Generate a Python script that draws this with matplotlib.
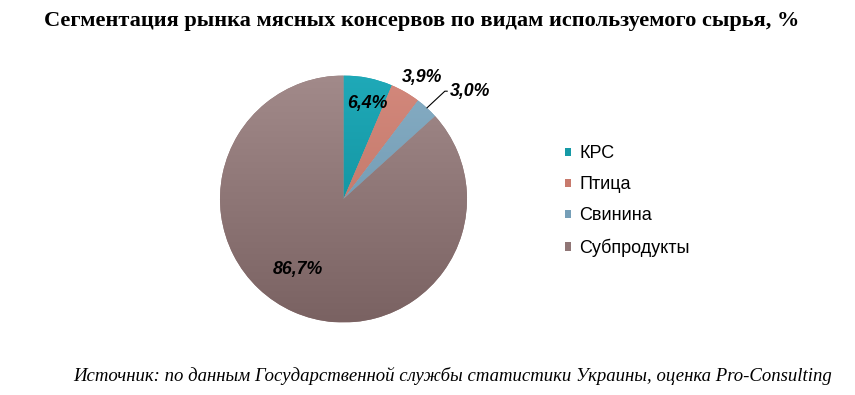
import numpy as np
import matplotlib
matplotlib.use("Agg")
import matplotlib.pyplot as plt
from matplotlib.colors import LinearSegmentedColormap
from matplotlib.patches import Rectangle

# ---------------------------------------------------------------------------
#  Data
# ---------------------------------------------------------------------------
TITLE = "Сегментация рынка мясных консервов по видам используемого сырья, %"
SOURCE = "Источник: по данным Государственной службы статистики Украины, оценка Pro-Consulting"

categories = ["КРС", "Птица", "Свинина", "Субпродукты"]
shares = [6.4, 3.9, 3.0, 86.7]
share_labels = ["6,4%", "3,9%", "3,0%", "86,7%"]

# top / bottom colours of the vertical gradient of each slice
TOP_COLORS = ["#1FA9B8", "#D3887C", "#86ADC4", "#A28A8A"]
BOT_COLORS = ["#0B8691", "#B9705F", "#6690A8", "#7A6262"]
MID_COLORS = ["#169AA6", "#C87A6D", "#769FB8", "#907676"]

# label placement (radius, angle offset in degrees) relative to slice middle
LABEL_R = [0.80, 1.17, 1.33, 0.68]
LABEL_DA = [-2.5, -3.0, -6.5, -9.0]

fig = plt.figure(figsize=(8.55, 3.95), dpi=100)
fig.patch.set_facecolor("white")

fig.text(0.4935, 0.948, TITLE, ha="center", va="center",
         fontsize=16.1, fontweight="bold", family="Liberation Serif")
fig.text(0.973, 0.047, SOURCE, ha="right", va="center",
         fontsize=13.5, style="italic", family="Liberation Serif")

# pie axes: centre (343.5, 199) px, radius 123.5 px
cx, cy, r = 343.5, 199.0, 123.5
ax = fig.add_axes([(cx - r) / 855, (395 - cy - r) / 395, 2 * r / 855, 2 * r / 395])
wedges, _ = ax.pie(shares, colors=MID_COLORS, startangle=90, counterclock=False,
                   radius=1.0, wedgeprops=dict(linewidth=0))
ax.set_xlim(-1, 1)
ax.set_ylim(-1, 1)
ax.set_aspect("equal")
ax.axis("off")

grad = np.linspace(0, 1, 256).reshape(-1, 1)
for w, c_top, c_bot in zip(wedges, TOP_COLORS, BOT_COLORS):
    cmap = LinearSegmentedColormap.from_list("g", [c_bot, c_top])
    im = ax.imshow(grad, extent=[-1, 1, -1, 1], origin="lower", cmap=cmap,
                   aspect="auto", zorder=1.5)
    im.set_clip_path(w)

lab_font = dict(fontsize=12.8, fontweight="bold", style="italic",
                family="Liberation Sans", color="black")
for i, w in enumerate(wedges):
    mid = np.deg2rad((w.theta1 + w.theta2) / 2 + LABEL_DA[i])
    lx, ly = LABEL_R[i] * np.cos(mid), LABEL_R[i] * np.sin(mid)
    if categories[i] == "Свинина":
        m0 = np.deg2rad((w.theta1 + w.theta2) / 2)
        ax.annotate(share_labels[i], xy=(np.cos(m0), np.sin(m0)),
                    xytext=(lx - 0.14, ly), ha="left", va="center",
                    annotation_clip=False, zorder=3,
                    arrowprops=dict(arrowstyle="-", color="black", lw=0.8,
                                    shrinkA=0, shrinkB=0,
                                    connectionstyle="angle,angleA=0,angleB=43,rad=0"),
                    **lab_font)
    else:
        ax.text(lx, ly, share_labels[i], ha="center", va="center", zorder=3,
                **lab_font)

# legend
handles = [Rectangle((0, 0), 1, 1, facecolor=c, edgecolor="none") for c in MID_COLORS]
fig.legend(handles, categories, loc="upper left", bbox_to_anchor=(0.650, 0.655),
           frameon=False, prop=dict(family="Liberation Sans", size=13),
           handlelength=0.36, handleheight=0.36, handletextpad=0.45,
           labelspacing=0.78, borderpad=0)

fig.savefig("out.png", dpi=100, facecolor="white")
